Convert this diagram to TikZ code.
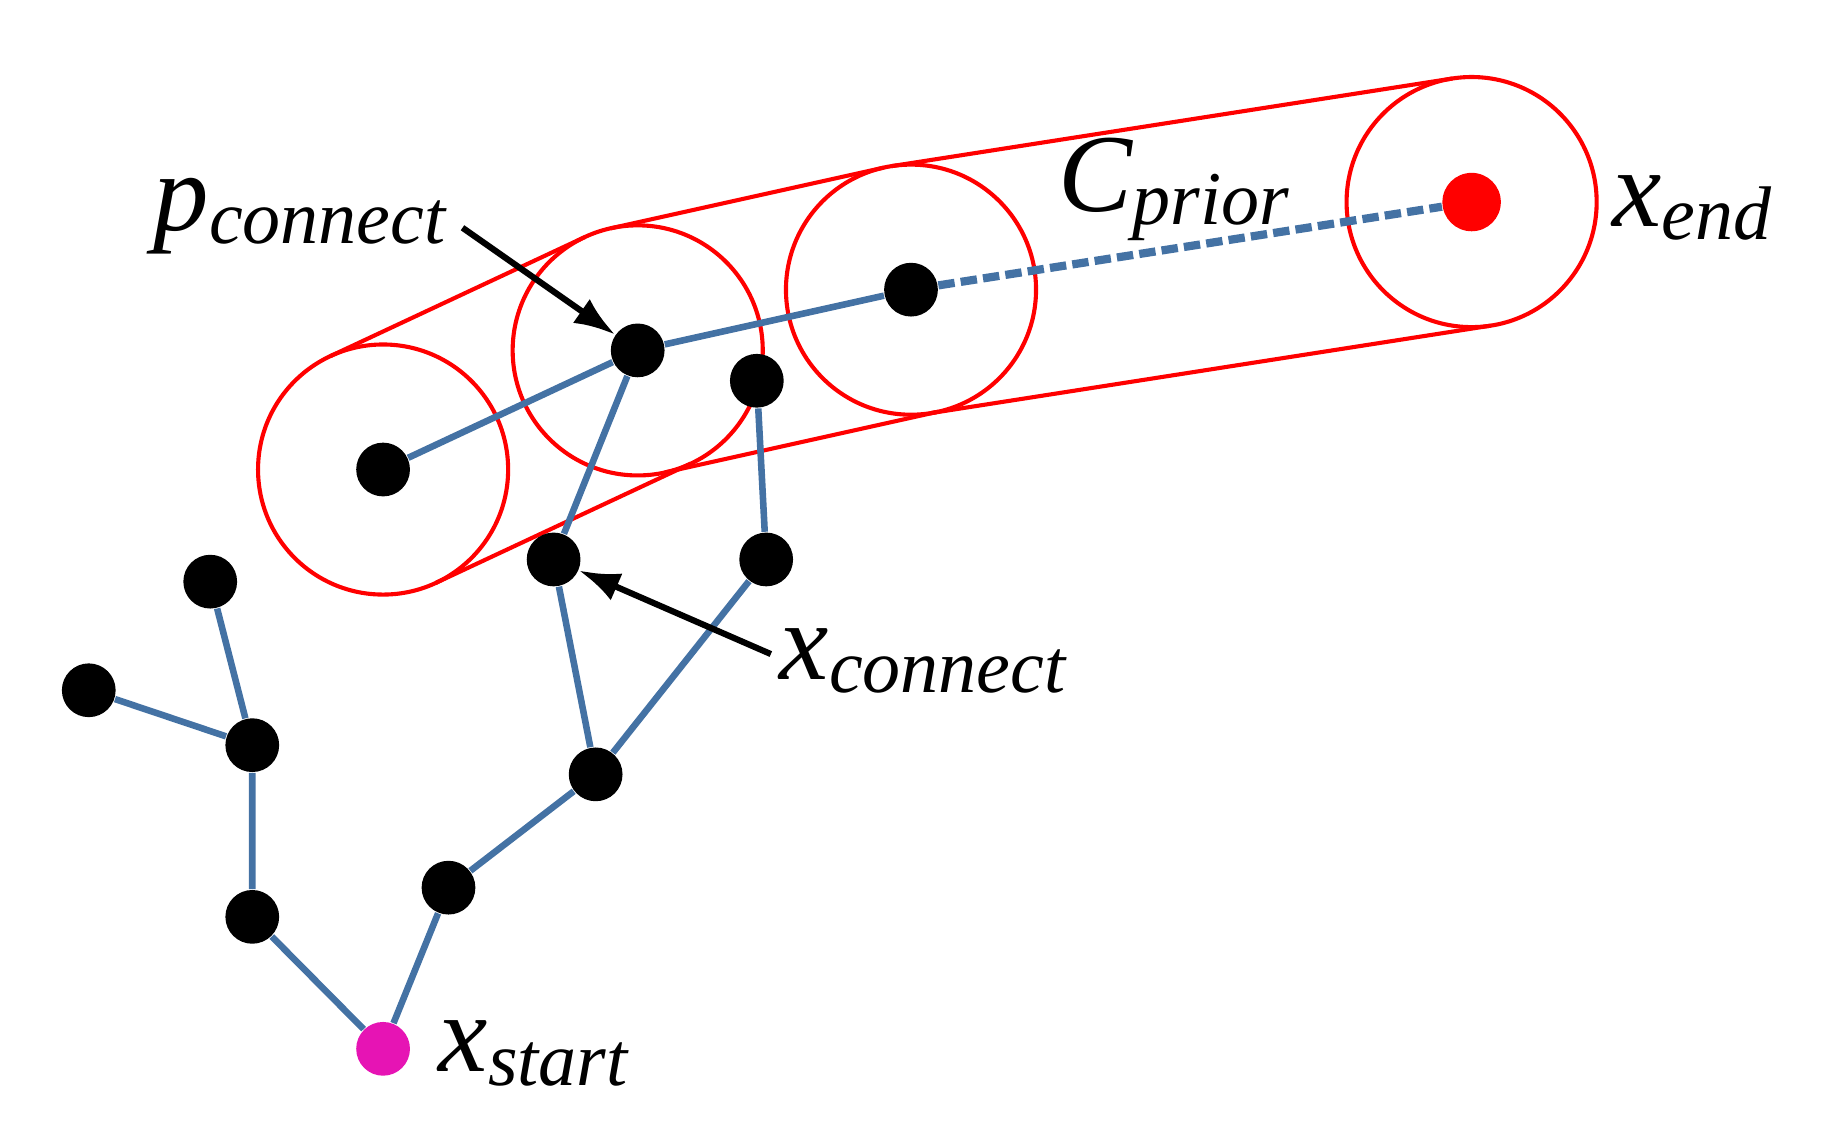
\documentclass[tikz,border=0pt]{standalone}
\usepackage{fontspec}
\setmainfont{Liberation Serif}
\usetikzlibrary{calc,arrows.meta}
\definecolor{edgeblue}{RGB}{68,114,164}
\definecolor{startmag}{RGB}{230,20,180}
\newcommand{\lab}[2]{\fontsize{27}{31}\selectfont\itshape #1\raisebox{-0.12em}{\fontsize{18.5}{22}\selectfont #2}}
\tikzset{
  dot/.style={circle,fill=black,inner sep=0pt,minimum size=0.46cm},
  edge/.style={edgeblue,line width=1.6pt},
  ring/.style={red,line width=1pt},
  pointer/.style={-{Latex[length=0.35cm,width=0.25cm]},line width=1.5pt}
}
\begin{document}
\begin{tikzpicture}[x=0.01cm,y=-0.01cm]
\useasboundingbox (0,0) rectangle (1560,966);
\coordinate (C0) at (328,402);
\coordinate (C1) at (546,300);
\coordinate (C2) at (780,248);
\coordinate (C3) at (1260,173);
\foreach \c in {C0,C1,C2,C3} \draw[ring] (\c) circle[radius=1.07cm];
\foreach \a/\b in {C0/C1,C1/C2,C2/C3}{
  \draw[ring] ($(\a)!1.07cm!90:(\b)$) -- ($(\b)!1.07cm!-90:(\a)$);
  \draw[ring] ($(\a)!1.07cm!-90:(\b)$) -- ($(\b)!1.07cm!90:(\a)$);
}
\node[circle,fill=startmag,inner sep=0pt,minimum size=0.46cm] (s) at (328,898) {};
\node[dot] (a1) at (216,785) {};
\node[dot] (a2) at (216,638) {};
\node[dot] (a3) at (180,498) {};
\node[dot] (a4) at (76,591) {};
\node[dot] (b1) at (384,760) {};
\node[dot] (b2) at (510,663) {};
\node[dot] (b3) at (474,479) {};
\node[dot] (b4) at (656,479) {};
\node[dot] (b5) at (648,326) {};
\node[dot] (p) at (C1) {};
\node[dot] (c0) at (C0) {};
\node[dot] (c2) at (C2) {};
\node[circle,fill=red,inner sep=0pt,minimum size=0.5cm] (e) at (C3) {};
\draw[edge] (s)--(a1) (a1)--(a2) (a2)--(a3) (a2)--(a4) (s)--(b1) (b1)--(b2)
  (b2)--(b3) (b2)--(b4) (b4)--(b5) (b3)--(p) (p)--(c0) (p)--(c2);
\draw[edge,dash pattern=on 4pt off 1.5pt,line width=2pt] (c2)--(e);
\node[anchor=east,inner sep=0pt] (lp) at (382,185) {\lab{p}{connect}};
\node[anchor=west,inner sep=0pt] (lxc) at (667,566) {\lab{x}{connect}};
\node[inner sep=0pt] (lcp) at (1005,162) {\lab{C}{prior}};
\node[anchor=west,inner sep=0pt] (lxe) at (1380,178) {\lab{x}{end}};
\node[anchor=west,inner sep=0pt] (lxs) at (375,902) {\lab{x}{start}};
\coordinate (q1) at (396,195);
\coordinate (q2) at (660,560);
\draw[pointer] (q1) -- (p);
\draw[pointer] (q2) -- (b3);
\end{tikzpicture}
\end{document}
